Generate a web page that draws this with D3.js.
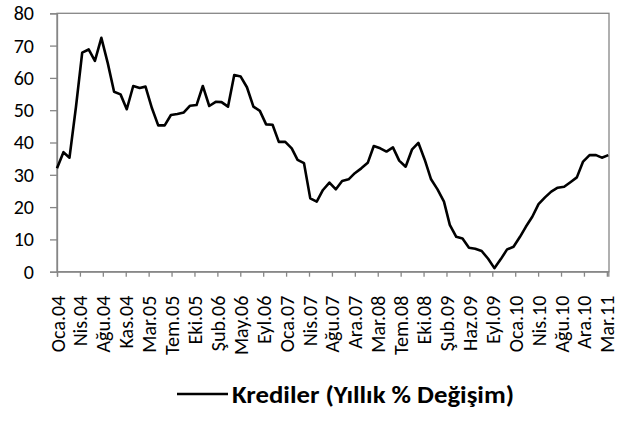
<!DOCTYPE html>
<html>
<head>
<meta charset="utf-8">
<script src="https://cdn.jsdelivr.net/npm/d3@7"></script>
<style>
  body { margin: 0; background: #fff; }
  svg { display: block; }
  text { font-family: Calibri, Carlito, Lato, sans-serif; fill: #000; }
</style>
</head>
<body>
<svg id="chart" width="641" height="442"></svg>
<script>
// Monthly series, Jan 2004 through Apr 2011
const startDate = new Date(2004, 0, 1);
const endDate = new Date(2011, 3, 1);

// Annual % change in loans
const credits = [
  32.0, 37.0, 35.3, 51.0, 67.8, 68.8, 65.3, 72.4, 64.5, 55.7, 54.9, 50.3,
  57.5, 56.9, 57.3, 50.6, 45.3, 45.3, 48.5, 48.8, 49.3, 51.4, 51.6, 57.5,
  51.3, 52.6, 52.5, 51.1, 60.9, 60.4, 57.1, 51.1, 49.8, 45.6, 45.5, 40.2,
  40.2, 38.2, 34.6, 33.6, 22.7, 21.7, 25.3, 27.6, 25.5, 28.1, 28.6, 30.5,
  32.0, 33.7, 38.9, 38.2, 37.2, 38.5, 34.4, 32.5, 37.9, 39.9, 34.6, 28.6,
  25.5, 21.7, 14.5, 10.8, 10.3, 7.4, 7.1, 6.4, 4.0, 1.1, 3.9, 6.9,
  7.7, 10.8, 13.9, 17.0, 20.9, 23.0, 24.8, 26.0, 26.3, 27.7, 29.2, 34.1,
  36.1, 36.1, 35.3, 36.1
];

const yTicks = [0, 10, 20, 30, 40, 50, 60, 70, 80];

// Date-axis labels, one every 110 days from the start
const tickStepDays = 110;
const xTickLabels = [
  "Oca.04", "Nis.04", "Ağu.04", "Kas.04", "Mar.05", "Tem.05", "Eki.05",
  "Şub.06", "May.06", "Eyl.06", "Oca.07", "Nis.07", "Ağu.07", "Ara.07",
  "Mar.08", "Tem.08", "Eki.08", "Şub.09", "Haz.09", "Eyl.09", "Oca.10",
  "Nis.10", "Ağu.10", "Ara.10", "Mar.11"
];

const seriesName = "Krediler (Yıllık % Değişim)";

const svg = d3.select("#chart");
const plot = { left: 57, right: 609, top: 13.3, bottom: 271.7 };
const axisColor = "#868686";
const fontStack = "Calibri, Carlito, Lato, sans-serif";

const dates = credits.map((_, i) => d3.timeMonth.offset(startDate, i));
const tickDates = xTickLabels.map((_, k) => d3.timeDay.offset(startDate, k * tickStepDays));

const x = d3.scaleTime().domain([startDate, endDate]).range([plot.left, plot.right - 0.7]);
const y = d3.scaleLinear().domain([0, 80]).range([plot.bottom, plot.top]);

// plot area frame
svg.append("rect")
  .attr("x", plot.left).attr("y", plot.top)
  .attr("width", plot.right - plot.left).attr("height", plot.bottom - plot.top)
  .attr("fill", "none").attr("stroke", axisColor).attr("stroke-width", 1.3);

// y axis
const yAxis = svg.append("g")
  .attr("transform", `translate(${plot.left},0)`)
  .call(d3.axisLeft(y).tickValues(yTicks).tickSize(7).tickPadding(16));
yAxis.select(".domain").attr("stroke", axisColor).attr("stroke-width", 1.3);
yAxis.selectAll(".tick line").attr("stroke", axisColor).attr("stroke-width", 1.3);
yAxis.selectAll(".tick text").attr("font-size", 20).attr("font-family", fontStack);

// x axis
const xAxis = svg.append("g")
  .attr("transform", `translate(0,${plot.bottom})`)
  .call(d3.axisBottom(x).tickValues(tickDates).tickSize(5)
    .tickFormat((d, i) => xTickLabels[i]));
xAxis.select(".domain").attr("stroke", axisColor).attr("stroke-width", 1.3);
xAxis.selectAll(".tick line").attr("stroke", axisColor).attr("stroke-width", 1.3);
xAxis.selectAll(".tick text")
  .attr("font-size", 20)
  .attr("font-family", fontStack)
  .attr("transform", "rotate(-90)")
  .attr("x", -24).attr("y", 0).attr("dy", "0.35em")
  .style("text-anchor", "end");

// series line
const line = d3.line()
  .x((d, i) => x(dates[i]))
  .y(d => y(d));

svg.append("path")
  .datum(credits)
  .attr("fill", "none")
  .attr("stroke", "#000")
  .attr("stroke-width", 2.6)
  .attr("stroke-linejoin", "round")
  .attr("d", line);

// legend
const legend = svg.append("g").attr("transform", "translate(177,394)");
legend.append("line")
  .attr("x1", 0).attr("x2", 51).attr("y1", 0).attr("y2", 0)
  .attr("stroke", "#000").attr("stroke-width", 2.6);
legend.append("text")
  .attr("x", 55).attr("y", 0).attr("dy", "0.35em")
  .attr("font-size", 25).attr("font-weight", "bold")
  .attr("textLength", 282).attr("lengthAdjust", "spacingAndGlyphs")
  .text(seriesName);
</script>
</body>
</html>
